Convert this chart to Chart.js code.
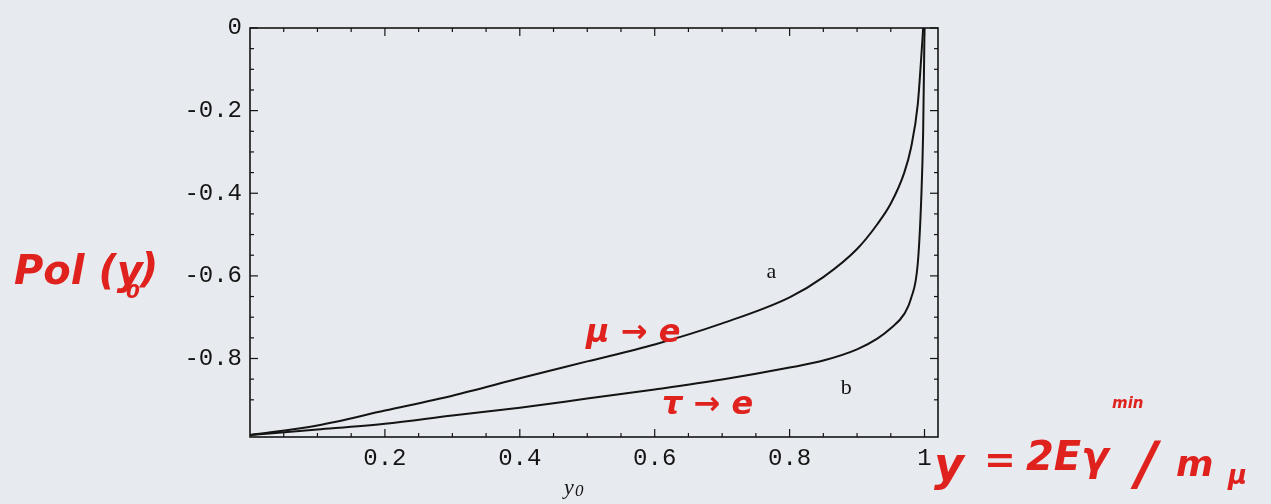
<!DOCTYPE html>
<html>
<head>
<meta charset="utf-8">
<script src="https://cdn.jsdelivr.net/npm/chart.js@4/dist/chart.umd.min.js"></script>
<style>
  html, body { margin: 0; padding: 0; background: #e7eaee; }
  #wrap { position: relative; width: 1271px; height: 504px; }
</style>
</head>
<body>
<div id="wrap"><canvas id="chart" width="1271" height="504"></canvas></div>
<script>
// ── Data ──────────────────────────────────────────────────────────────────────
const yValues = [0, 0.1, 0.2, 0.3, 0.4, 0.5, 0.6, 0.7, 0.8, 0.85, 0.9, 0.93,
                 0.95, 0.97, 0.98, 0.99, 0.995, 0.998, 1];
const polA = [-0.985, -0.962, -0.926, -0.89, -0.848, -0.807, -0.766, -0.715,
              -0.652, -0.603, -0.535, -0.475, -0.425, -0.35, -0.29, -0.185,
              -0.075, 0, null];
const polB = [-0.985, -0.972, -0.958, -0.938, -0.919, -0.897, -0.875, -0.851,
              -0.822, -0.805, -0.778, -0.752, -0.727, -0.692, -0.655, -0.57,
              -0.42, -0.25, 0];
const xTickLabels = [0.2, 0.4, 0.6, 0.8, 1];
const yTickLabels = [0, -0.2, -0.4, -0.6, -0.8];

const INK = "#141414";
const RED = "#e0221f";

function pts(vals) {
  return yValues.map((x, i) => ({ x: x, y: vals[i] }));
}

// ── Frame with inward ticks (Mathematica style) ───────────────────────────────
const framePlugin = {
  id: "frame",
  afterDatasetsDraw(chart) {
    const { ctx, chartArea: a, scales: { x, y } } = chart;
    ctx.save();
    ctx.strokeStyle = INK;
    ctx.lineWidth = 1.6;
    ctx.strokeRect(a.left, a.top, a.right - a.left, a.bottom - a.top);
    ctx.lineWidth = 1.2;
    const tick = (x1, y1, x2, y2) => {
      ctx.beginPath(); ctx.moveTo(x1, y1); ctx.lineTo(x2, y2); ctx.stroke();
    };
    for (let v = 0.05; v <= 1.0001; v += 0.05) {
      const major = xTickLabels.some(t => Math.abs(t - v) < 1e-6);
      const len = major ? 8 : 4;
      const px = x.getPixelForValue(v);
      tick(px, a.bottom, px, a.bottom - len);
      tick(px, a.top, px, a.top + len);
    }
    for (let v = 0; v >= -0.95; v -= 0.05) {
      const major = yTickLabels.some(t => Math.abs(t - v) < 1e-6);
      const len = major ? 8 : 4;
      const py = y.getPixelForValue(v);
      tick(a.left, py, a.left + len, py);
      tick(a.right, py, a.right - len, py);
    }
    ctx.restore();
  }
};

// ── Curve labels, axis label and handwritten notes ────────────────────────────
const notesPlugin = {
  id: "notes",
  afterDraw(chart) {
    const { ctx, scales: { x, y } } = chart;
    ctx.save();
    ctx.fillStyle = INK;
    ctx.font = "22px 'Liberation Serif'";
    ctx.textAlign = "center";
    ctx.textBaseline = "middle";
    ctx.fillText("a", x.getPixelForValue(0.773), y.getPixelForValue(-0.592));
    ctx.fillText("b", x.getPixelForValue(0.884), y.getPixelForValue(-0.873));

    // axis title y0
    ctx.textAlign = "left";
    ctx.textBaseline = "alphabetic";
    ctx.font = "italic 22px 'Liberation Serif'";
    ctx.fillText("y", 564, 494);
    ctx.font = "italic 17px 'Liberation Serif'";
    ctx.fillText("0", 575, 496);

    ctx.fillStyle = RED;
    ctx.font = "italic bold 40px 'DejaVu Sans'";
    ctx.fillText("Pol (y", 14, 284);
    ctx.font = "italic bold 20px 'DejaVu Sans'";
    ctx.fillText("0", 126, 298);
    ctx.font = "italic bold 40px 'DejaVu Sans'";
    ctx.fillText(")", 140, 282);

    ctx.font = "italic bold 32px 'DejaVu Sans'";
    ctx.fillText("μ → e", 586, 342);
    ctx.fillText("τ → e", 662, 414);

    ctx.font = "italic bold 46px 'DejaVu Sans'";
    ctx.fillText("y", 934, 480);
    ctx.font = "bold 38px 'DejaVu Sans'";
    ctx.fillText("=", 984, 472);
    ctx.font = "italic bold 40px 'DejaVu Sans'";
    ctx.fillText("2Eγ", 1026, 470);
    ctx.font = "italic bold 58px 'DejaVu Sans'";
    ctx.fillText("/", 1136, 484);
    ctx.font = "italic bold 36px 'DejaVu Sans'";
    ctx.fillText("m", 1176, 476);
    ctx.font = "italic bold 26px 'DejaVu Sans'";
    ctx.fillText("μ", 1228, 484);
    ctx.font = "italic bold 15px 'DejaVu Sans'";
    ctx.fillText("min", 1112, 408);
    ctx.restore();
  }
};

// ── Chart ─────────────────────────────────────────────────────────────────────
const line = {
  borderColor: INK,
  borderWidth: 2,
  pointRadius: 0,
  fill: false,
  cubicInterpolationMode: "monotone",
  spanGaps: false
};

new Chart(document.getElementById("chart"), {
  type: "line",
  data: {
    datasets: [
      { label: "a", data: pts(polA), ...line },
      { label: "b", data: pts(polB), ...line }
    ]
  },
  options: {
    responsive: false,
    animation: false,
    layout: { padding: { left: 0, top: 28, right: 333, bottom: 0 } },
    plugins: { legend: { display: false }, tooltip: { enabled: false } },
    scales: {
      x: {
        type: "linear",
        min: 0,
        max: 1.02,
        grid: { display: false, drawTicks: false },
        border: { display: false },
        afterBuildTicks: s => { s.ticks = xTickLabels.map(v => ({ value: v })); },
        afterFit: s => { s.height = 67; },
        ticks: {
          color: INK,
          padding: 7,
          font: { family: "'Liberation Mono'", size: 24 },
          callback: v => String(v)
        }
      },
      y: {
        type: "linear",
        min: -0.99,
        max: 0,
        grid: { display: false, drawTicks: false },
        border: { display: false },
        afterBuildTicks: s => { s.ticks = yTickLabels.map(v => ({ value: v })); },
        afterFit: s => { s.width = 250; },
        ticks: {
          color: INK,
          padding: 8,
          font: { family: "'Liberation Mono'", size: 24 },
          callback: v => String(v)
        }
      }
    }
  },
  plugins: [framePlugin, notesPlugin]
});
</script>
</body>
</html>
